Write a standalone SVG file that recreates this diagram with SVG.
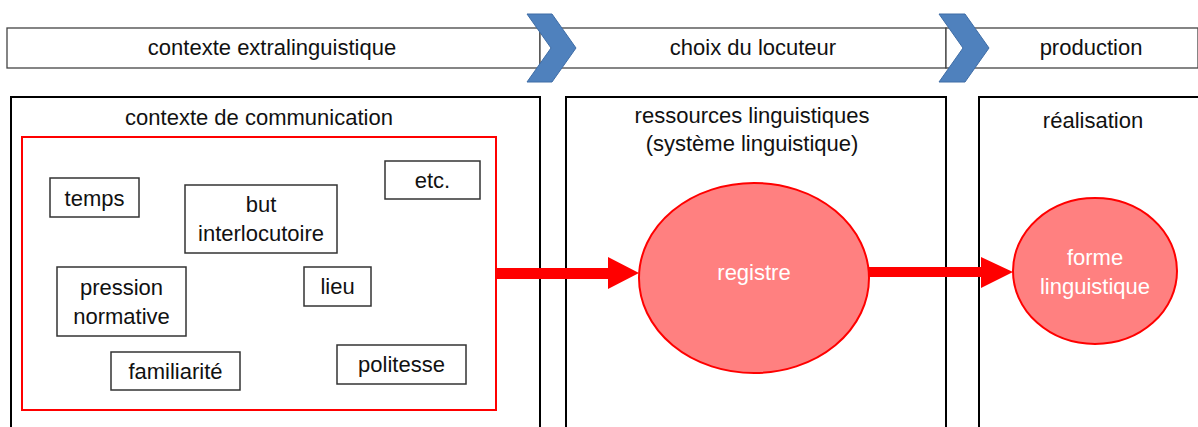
<svg xmlns="http://www.w3.org/2000/svg" width="1198" height="427" viewBox="0 0 1198 427">
<style>
text{font-family:"Liberation Sans",Arial,sans-serif;font-size:22px;fill:#111;text-anchor:middle}
.bar{fill:#fff;stroke:#444;stroke-width:1.3}
.chev{fill:#4F81BD;stroke:#3F6DA6;stroke-width:1}
.panel{fill:#fff;stroke:#000;stroke-width:2}
.item{fill:#fff;stroke:#333;stroke-width:1.5}
.ell{fill:#FF8080;stroke:#FF0000;stroke-width:2}
.w{fill:#fff}
.arrow{fill:#FF0000}
</style>
<rect width="1198" height="427" fill="#fff"/>
<g id="phases">
<g id="bar-contexte"><rect class="bar" x="7" y="28" width="533" height="40"/><text x="272" y="55">contexte extralinguistique</text></g>
<g id="bar-choix"><rect class="bar" x="540" y="28" width="406" height="40"/><text x="753" y="55">choix du locuteur</text></g>
<g id="bar-production"><rect class="bar" x="946" y="28" width="252" height="40"/><text x="1091" y="55">production</text></g>
<polygon id="chevron1" class="chev" points="527,14 552,14 576,48 552,82 527,82 551,48"/>
<polygon id="chevron2" class="chev" points="939,14 965,14 989,48 965,82 939,82 963,48"/>
</g>
<g id="panel-contexte"><rect class="panel" x="11" y="97" width="529" height="345"/><text x="259" y="125">contexte de communication</text></g>
<g id="panel-ressources"><rect class="panel" x="566" y="97" width="380" height="345"/><text x="752" y="123">ressources linguistiques</text><text x="752" y="151">(système linguistique)</text></g>
<g id="panel-realisation"><rect class="panel" x="979" y="97" width="230" height="345"/><text x="1093" y="128">réalisation</text></g>
<g id="contexte-communication"><rect x="22" y="137" width="474" height="273" fill="none" stroke="#FF0000" stroke-width="2"/></g>
<g id="temps"><rect class="item" x="50" y="178" width="89" height="39"/><text x="94.5" y="206">temps</text></g>
<g id="but"><rect class="item" x="185" y="185" width="152" height="68"/><text x="261" y="212">but</text><text x="261" y="241">interlocutoire</text></g>
<g id="etc"><rect class="item" x="385" y="161" width="95" height="38"/><text x="432.5" y="188">etc.</text></g>
<g id="pression"><rect class="item" x="57" y="267" width="129" height="69"/><text x="121.5" y="295">pression</text><text x="121.5" y="324">normative</text></g>
<g id="lieu"><rect class="item" x="304" y="267" width="67" height="39"/><text x="337.5" y="294">lieu</text></g>
<g id="familiarite"><rect class="item" x="111" y="352" width="129" height="38"/><text x="175.5" y="379">familiarité</text></g>
<g id="politesse"><rect class="item" x="337" y="345" width="129" height="39"/><text x="401.5" y="372">politesse</text></g>
<g id="registre"><ellipse class="ell" cx="754" cy="278" rx="115" ry="95"/><text class="w" x="754" y="280">registre</text></g>
<g id="forme"><ellipse class="ell" cx="1095" cy="271" rx="82" ry="73"/><text class="w" x="1095" y="265">forme</text><text class="w" x="1095" y="294">linguistique</text></g>
<g id="connectors">
<polygon class="arrow" points="497,268 608,268 608,257 639,273 608,289 608,279 497,279"/>
<polygon class="arrow" points="869,267 981,267 981,257 1013,272 981,288 981,277 869,277"/>
</g>
</svg>
